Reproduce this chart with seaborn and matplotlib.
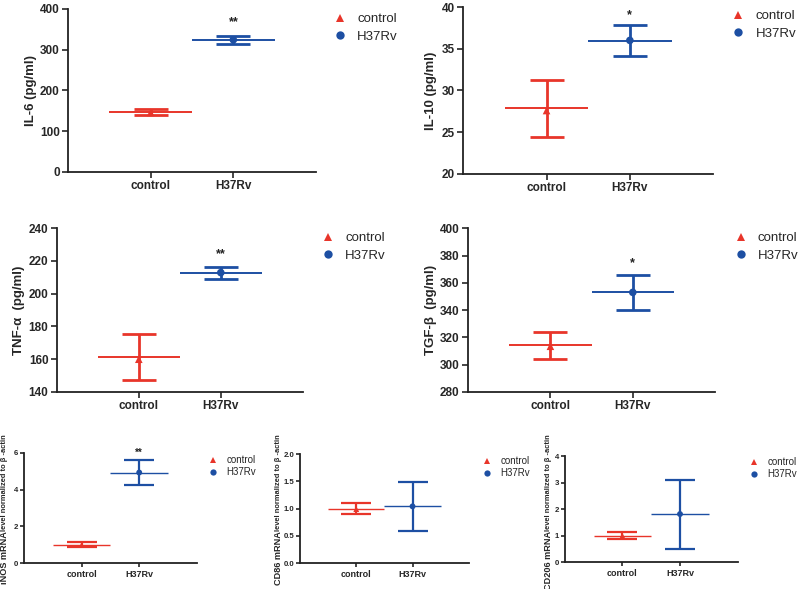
import matplotlib
matplotlib.use('Agg')
import matplotlib.pyplot as plt
import seaborn as sns
import pandas as pd
import numpy as np

groups = ['control', 'H37Rv']

# mean, SD and plotted point for each panel
il6_mean = [147, 324]
il6_sd = [7.5, 10.5]
il6_pt = [146, 324]

il10_mean = [27.85, 35.98]
il10_sd = [3.45, 1.88]
il10_pt = [27.6, 36.0]

tnf_mean = [161.2, 212.6]
tnf_sd = [14.0, 3.9]
tnf_pt = [160.0, 212.9]

tgf_mean = [314.3, 353.0]
tgf_sd = [9.8, 13.0]
tgf_pt = [313.5, 353.0]

inos_mean = [1.0, 4.93]
inos_sd = [0.15, 0.70]
inos_pt = [0.98, 4.93]

cd86_mean = [1.0, 1.04]
cd86_sd = [0.107, 0.445]
cd86_pt = [0.99, 1.04]

cd206_mean = [1.0, 1.81]
cd206_sd = [0.115, 1.30]
cd206_pt = [0.99, 1.81]

colors = {'control': '#e8352a', 'H37Rv': '#1d4fa3'}
markers = {'control': '^', 'H37Rv': 'o'}

sns.set_style('ticks')
plt.rcParams['font.family'] = ['Liberation Sans', 'DejaVu Sans']

fig = plt.figure(figsize=(8, 5.89), dpi=100)


def draw_panel(rect, means, sds, pts, ylim, yticks, star, star_y, leg_xy,
               small=False, ylabel=None, ylab_x=None, big_lab=None,
               small_lab=None):
    ax = fig.add_axes(rect)
    df = pd.DataFrame({'group': groups, 'value': pts})
    sns.scatterplot(data=df, x='group', y='value', hue='group', style='group',
                    palette=colors, markers=markers,
                    s=18 if small else 30, linewidth=0, zorder=4, ax=ax)
    leg = ax.get_legend()
    handles = leg.legend_handles
    labels = [t.get_text() for t in leg.texts]
    leg.remove()

    half = 0.5
    for i, g in enumerate(groups):
        ax.hlines(means[i], i - half, i + half, color=colors[g],
                  lw=1.0 if small else 1.4, zorder=2)
        ax.errorbar(i, means[i], yerr=sds[i], fmt='none', ecolor=colors[g],
                    elinewidth=1.6 if small else 2.0,
                    capthick=1.6 if small else 2.0,
                    capsize=11 if small else 12, zorder=3)

    ax.set_xlim(-1.0, 2.0)
    ax.set_xticks([0, 1])
    ax.set_xticklabels(groups)
    ax.set_ylim(*ylim)
    ax.set_yticks(yticks)
    if ylim[1] == 2.0:
        ax.set_yticklabels(['%.1f' % v for v in yticks])
    ax.set_xlabel('')
    ax.set_ylabel('')

    for lab in ax.get_xticklabels():
        lab.set_fontsize(6.5 if small else 8.5)
        lab.set_fontweight('bold')
    for lab in ax.get_yticklabels():
        lab.set_fontsize(5.6 if small else 8.5)
        lab.set_fontweight('bold')
    ax.tick_params(length=3 if small else 4, width=1.2, pad=2)
    ax.tick_params(axis='y', pad=1 if small else 2)
    for s in ['top', 'right']:
        ax.spines[s].set_visible(False)
    for s in ['left', 'bottom']:
        ax.spines[s].set_linewidth(1.3)
        ax.spines[s].set_color('#222222')

    ax.text(1, star_y, star, ha='center', va='center',
            fontsize=7 if small else 9, fontweight='bold', color='#222222')

    lfs = 7 if small else 9.5
    for h in handles:
        h.set_markersize(4.5 if small else 6)
    ax.legend(handles, labels, loc='upper left', bbox_to_anchor=leg_xy,
              frameon=False, fontsize=lfs, handlelength=1.0,
              handletextpad=0.9 if small else 0.8,
              labelspacing=0.2 if small else 0.4,
              borderpad=0, borderaxespad=0)

    if ylabel is not None:
        ax.set_ylabel(ylabel, fontsize=9.5, fontweight='bold')
        ax.yaxis.set_label_coords(ylab_x, 0.5)
    if big_lab is not None:
        split = 0.29
        ax.text(ylab_x, split, big_lab, rotation=90, transform=ax.transAxes,
                ha='center', va='top', fontsize=6.6, fontweight='bold')
        ax.text(ylab_x, split, small_lab, rotation=90, transform=ax.transAxes,
                ha='center', va='bottom', fontsize=5.4, fontweight='bold')
    return ax


draw_panel([0.085, 0.708, 0.31, 0.277], il6_mean, il6_sd, il6_pt,
           (0, 400), [0, 100, 200, 300, 400], '**', 368, (1.07, 0.975),
           ylabel='IL-6 (pg/ml)', ylab_x=-0.125)
draw_panel([0.579, 0.7046, 0.3125, 0.2835], il10_mean, il10_sd, il10_pt,
           (20, 40), [20, 25, 30, 35, 40], '*', 39.0, (1.074, 0.982),
           ylabel='IL-10 (pg/ml)', ylab_x=-0.105)
draw_panel([0.071, 0.3345, 0.3075, 0.278], tnf_mean, tnf_sd, tnf_pt,
           (140, 240), [140, 160, 180, 200, 220, 240], '**', 224,
           (1.075, 0.976), ylabel='TNF-α  (pg/ml)', ylab_x=-0.13)
draw_panel([0.585, 0.3345, 0.309, 0.278], tgf_mean, tgf_sd, tgf_pt,
           (280, 400), [280, 300, 320, 340, 360, 380, 400], '*', 374.4,
           (1.076, 0.976), ylabel='TGF-β  (pg/ml)', ylab_x=-0.125)
draw_panel([0.03, 0.0441, 0.216, 0.187], inos_mean, inos_sd, inos_pt,
           (0, 6), [0, 2, 4, 6], '**', 6.0, (1.064, 0.98), small=True,
           ylab_x=-0.115, big_lab='iNOS mRNA',
           small_lab='level normalized to β -actin')
draw_panel([0.375, 0.0441, 0.211, 0.185], cd86_mean, cd86_sd, cd86_pt,
           (0, 2.0), [0, 0.5, 1.0, 1.5, 2.0], '', 2.0, (1.077, 0.98),
           small=True, ylab_x=-0.125, big_lab='CD86 mRNA',
           small_lab='level normalized to β -actin')
draw_panel([0.706, 0.0458, 0.216, 0.18], cd206_mean, cd206_sd, cd206_pt,
           (0, 4), [0, 1, 2, 3, 4], '', 4.0, (1.064, 0.99), small=True,
           ylab_x=-0.095, big_lab='CD206 mRNA',
           small_lab='level normalized to β -actin')

fig.savefig('out.png', dpi=100)
